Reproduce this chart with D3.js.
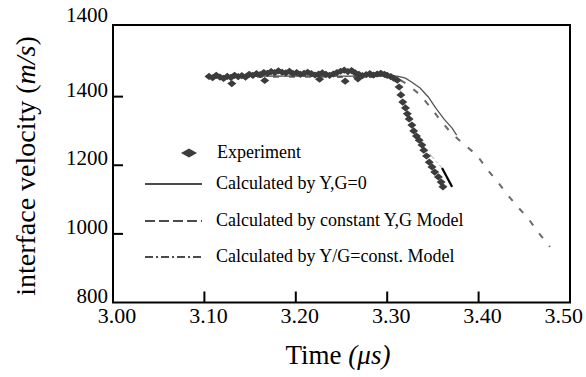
<!DOCTYPE html>
<html>
<head>
<meta charset="utf-8">
<script src="https://cdn.jsdelivr.net/npm/d3@7"></script>
<style>
  body { margin: 0; background: #fff; }
  text { font-family: "Liberation Serif", "Times New Roman", serif; fill: #000; }
</style>
</head>
<body>
<div id="chart"></div>
<script>
(function () {
  'use strict';

  // experiment (diamonds)
  var expTime = [3.105, 3.109, 3.113, 3.117, 3.121, 3.125, 3.129, 3.133, 3.137, 3.141,
    3.145, 3.149, 3.153, 3.157, 3.161, 3.165, 3.169, 3.173, 3.177, 3.181,
    3.185, 3.189, 3.193, 3.197, 3.201, 3.205, 3.209, 3.213, 3.217, 3.221,
    3.225, 3.229, 3.233, 3.237, 3.241, 3.245, 3.249, 3.253, 3.257, 3.261,
    3.265, 3.269, 3.273, 3.277, 3.281, 3.285, 3.289, 3.293, 3.297, 3.300,
    3.304, 3.307, 3.130, 3.166, 3.226, 3.268, 3.254,
    3.311, 3.313, 3.315, 3.317, 3.320, 3.322, 3.324, 3.327, 3.329, 3.332,
    3.335, 3.338, 3.340, 3.343, 3.346, 3.349, 3.352, 3.356, 3.359, 3.361];
  var expVel = [1459, 1455, 1462, 1457, 1453, 1459, 1456, 1462, 1458, 1461,
    1457, 1465, 1462, 1467, 1464, 1470, 1468, 1473, 1470, 1475,
    1471, 1469, 1474, 1467, 1470, 1465, 1468, 1471, 1467, 1463,
    1466, 1469, 1465, 1462, 1466, 1470, 1474, 1477, 1473, 1476,
    1469, 1465, 1461, 1464, 1467, 1463, 1466, 1468, 1465, 1462,
    1458, 1454, 1438, 1447, 1451, 1452, 1445,
    1448, 1428, 1405, 1384, 1367, 1350, 1335, 1317, 1300, 1285,
    1273, 1259, 1244, 1227, 1209, 1195, 1180, 1166, 1151, 1137];

  // Calculated by Y,G=0
  var zeroTime = [3.105, 3.200, 3.300, 3.311, 3.320, 3.327, 3.336, 3.345, 3.353, 3.362, 3.371, 3.376];
  var zeroVel = [1460, 1460, 1460, 1460, 1454, 1442, 1425, 1399, 1367, 1335, 1308, 1288];

  // Calculated by constant Y,G Model
  var constTime = [3.105, 3.200, 3.300, 3.311, 3.323, 3.336, 3.347, 3.358, 3.369, 3.382,
    3.398, 3.410, 3.421, 3.432, 3.443, 3.454, 3.465, 3.478];
  var constVel = [1458, 1458, 1457, 1454, 1434, 1405, 1370, 1332, 1297, 1265,
    1230, 1186, 1151, 1113, 1078, 1046, 1005, 962];

  // Calculated by Y/G=const. Model
  var ratioTime = [3.105, 3.200, 3.300, 3.311, 3.318, 3.327, 3.338, 3.360, 3.371];
  var ratioVel = [1460, 1460, 1458, 1448, 1384, 1317, 1259, 1192, 1137];

  var xTicks = [3.00, 3.10, 3.20, 3.30, 3.40, 3.50];
  var yTicks = [800, 1000, 1200, 1400, 1600];
  var yTickLabels = ['800', '1000', '1200', '1400', '1400'];

  var legendLabels = ['Experiment', 'Calculated by Y,G=0',
    'Calculated by constant Y,G Model', 'Calculated by Y/G=const. Model'];

  var W = 586, H = 377;
  var left = 113, right = 570, top = 25, bottom = 302.5;

  var svg = d3.select('#chart').append('svg')
    .attr('width', W)
    .attr('height', H);

  var x = d3.scaleLinear().domain([3.0, 3.5]).range([left, right]);
  var y = d3.scaleLinear().domain([800, 1600]).range([bottom, 28]);

  function pairs(t, v) {
    return t.map(function (d, i) { return [d, v[i]]; });
  }

  var line = d3.line()
    .x(function (d) { return x(d[0]); })
    .y(function (d) { return y(d[1]); });

  var diamond = 'M-4.5,0L0,-3.6L4.5,0L0,3.6Z';

  // model curves (drawn first, experiment sits on top)
  svg.append('path')
    .attr('d', line(pairs(ratioTime, ratioVel).slice(0, -1)))
    .attr('fill', 'none')
    .attr('stroke', '#aaa')
    .attr('stroke-width', 1)
    .attr('stroke-dasharray', '7,3,2,3');

  svg.append('path')
    .attr('d', line(pairs(ratioTime, ratioVel).slice(-2)))
    .attr('fill', 'none')
    .attr('stroke', '#000')
    .attr('stroke-width', 2.2);

  svg.append('path')
    .attr('d', line(pairs(constTime, constVel)))
    .attr('fill', 'none')
    .attr('stroke', '#6a6a6a')
    .attr('stroke-width', 2)
    .attr('stroke-dasharray', '6,10');

  svg.append('path')
    .attr('d', line(pairs(zeroTime, zeroVel)))
    .attr('fill', 'none')
    .attr('stroke', '#555')
    .attr('stroke-width', 1.3);

  svg.append('g').selectAll('path')
    .data(pairs(expTime, expVel))
    .enter().append('path')
    .attr('d', diamond)
    .attr('transform', function (d) {
      return 'translate(' + x(d[0]) + ',' + y(d[1]) + ')';
    })
    .attr('fill', '#3c3c3c');

  // frame
  svg.append('rect')
    .attr('x', left)
    .attr('y', top)
    .attr('width', right - left)
    .attr('height', bottom - top)
    .attr('fill', 'none')
    .attr('stroke', '#000')
    .attr('stroke-width', 2);

  // ticks (inside)
  svg.append('g').selectAll('line')
    .data(xTicks.slice(1, -1))
    .enter().append('line')
    .attr('x1', function (d) { return x(d); })
    .attr('x2', function (d) { return x(d); })
    .attr('y1', bottom)
    .attr('y2', bottom - 11)
    .attr('stroke', '#000')
    .attr('stroke-width', 2);

  svg.append('g').selectAll('line')
    .data(yTicks.slice(1, -1))
    .enter().append('line')
    .attr('x1', left)
    .attr('x2', left + 10)
    .attr('y1', function (d) { return y(d); })
    .attr('y2', function (d) { return y(d); })
    .attr('stroke', '#000')
    .attr('stroke-width', 2);

  var last = xTicks.length - 1;
  svg.append('g').selectAll('text')
    .data(xTicks)
    .enter().append('text')
    .attr('x', function (d, i) { return i === last ? 583 : x(d) + 4; })
    .attr('y', 323)
    .attr('text-anchor', function (d, i) { return i === last ? 'end' : 'middle'; })
    .style('font-size', '22px')
    .text(function (d) { return d3.format('.2f')(d); });

  svg.append('g').selectAll('text')
    .data(yTicks)
    .enter().append('text')
    .attr('x', 108)
    .attr('y', function (d) { return Math.min(y(d), 22); })
    .attr('y', function (d, i) { return i === yTicks.length - 1 ? 22 : y(d); })
    .attr('text-anchor', 'end')
    .style('font-size', '21px')
    .text(function (d, i) { return yTickLabels[i]; });

  // axis titles
  var xt = svg.append('text')
    .attr('x', 338)
    .attr('y', 364)
    .attr('text-anchor', 'middle')
    .style('font-size', '27px');
  xt.append('tspan').text('Time ');
  xt.append('tspan').style('font-style', 'italic').text('(\u03bcs)');

  var yt = svg.append('text')
    .attr('transform', 'translate(35,166) rotate(-90)')
    .attr('text-anchor', 'middle')
    .style('font-size', '28px');
  yt.append('tspan').text('interface velocity ');
  yt.append('tspan').text('(');
  yt.append('tspan').style('font-style', 'italic').text('m/s');
  yt.append('tspan').text(')');

  // legend
  var rowY = [153, 184, 221, 257];
  var dashes = [null, null, '10,4', '8,3,2,3'];

  svg.append('path')
    .attr('d', 'M-8,0L0,-4.5L8,0L0,4.5Z')
    .attr('transform', 'translate(189,' + rowY[0] + ')')
    .attr('fill', '#3c3c3c');

  for (var i = 1; i < 4; i++) {
    svg.append('line')
      .attr('x1', 145)
      .attr('x2', 202)
      .attr('y1', rowY[i])
      .attr('y2', rowY[i])
      .attr('stroke', '#111')
      .attr('stroke-width', 1.3)
      .attr('stroke-dasharray', dashes[i]);
  }

  svg.append('g').selectAll('text')
    .data(legendLabels)
    .enter().append('text')
    .attr('x', function (d, i) { return i === 0 ? 217 : 216; })
    .attr('y', function (d, i) { return rowY[i] + 5; })
    .style('font-size', '18px')
    .text(function (d) { return d; });
})();
</script>
</body>
</html>
